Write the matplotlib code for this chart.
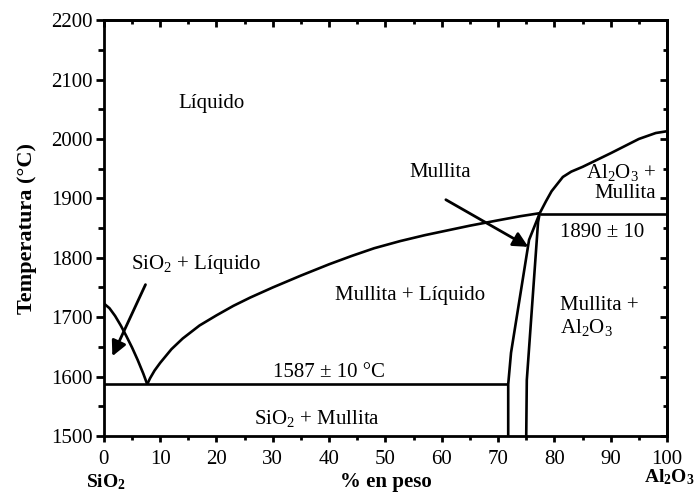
import matplotlib
matplotlib.use("Agg")
import matplotlib.pyplot as plt
from matplotlib.ticker import MultipleLocator, NullFormatter

plt.rcParams['font.family'] = ['Liberation Serif', 'DejaVu Serif']
plt.rcParams['mathtext.fontset'] = 'custom'
plt.rcParams['mathtext.rm'] = 'Liberation Serif'
plt.rcParams['mathtext.bf'] = 'Liberation Serif:bold'
plt.rcParams['mathtext.default'] = 'rm'

# Liquidus, SiO2 side
liq_sio2_x = [0, 1, 2, 3, 4, 5, 6, 7, 7.7]
liq_sio2_t = [1723, 1715, 1702, 1686, 1668, 1649, 1628, 1605, 1587]
# Liquidus, mullite side (eutectic to peritectic)
liq_mul_x = [7.7, 8.2, 9, 10, 12, 14, 17, 20, 23, 26, 30, 35, 40, 44, 48,
             52.6, 57, 61.5, 65, 70, 74, 77.4]
liq_mul_t = [1587, 1597, 1610, 1623, 1646, 1664, 1686, 1703, 1719, 1733, 1750,
             1770, 1789, 1803, 1816, 1828, 1838, 1847, 1854, 1863, 1870, 1875]
# Liquidus, Al2O3 side
liq_al_x = [77.4, 78.5, 79.5, 81.5, 83, 85, 90, 95, 98, 100]
liq_al_t = [1875, 1895, 1912, 1936, 1945, 1953, 1976, 2000, 2010, 2013]
# Peritectic line
perit_x = [77.4, 100]
perit_t = [1874, 1874]
# Eutectic line
eut_x = [0, 71.8]
eut_t = [1587, 1587]
# Mullite region boundaries
mul_left_x = [71.8, 71.8, 72.3, 75.5, 77.4]
mul_left_t = [1500, 1587, 1640, 1830, 1875]
mul_right_x = [75.0, 75.1, 77.1, 77.4]
mul_right_t = [1500, 1594, 1860, 1875]

fig = plt.figure(figsize=(6.97, 4.92), dpi=100)
ax = fig.add_axes([0.149, 0.114, 0.808, 0.845])

lw = 1.9
for xs, ts in [(liq_sio2_x, liq_sio2_t), (liq_mul_x, liq_mul_t), (liq_al_x, liq_al_t),
               (perit_x, perit_t), (eut_x, eut_t), (mul_left_x, mul_left_t),
               (mul_right_x, mul_right_t)]:
    ax.plot(xs, ts, color='black', lw=lw, solid_capstyle='butt', solid_joinstyle='round')

ax.set_xlim(0, 100)
ax.set_ylim(1500, 2200)

# Arrows
ax.annotate('', xy=(1.3, 1630), xytext=(7.6, 1759),
            arrowprops=dict(arrowstyle='-|>,head_length=0.9,head_width=0.45', color='black', lw=2))
ax.annotate('', xy=(75.8, 1816), xytext=(60.3, 1900),
            arrowprops=dict(arrowstyle='-|>,head_length=0.9,head_width=0.45', color='black', lw=2))

fs = 15
ax.text(19.2, 2060, 'Líquido', fontsize=fs, ha='center', va='center')
ax.text(16.3, 1788, r'SiO$_2$ + Líquido', fontsize=fs, ha='center', va='center')
ax.text(54.4, 1737, 'Mullita + Líquido', fontsize=fs, ha='center', va='center')
ax.text(59.7, 1943, 'Mullita', fontsize=fs, ha='center', va='center')
ax.text(98.0, 1927, 'Al$_2$O$_3$ +\nMullita', fontsize=fs, ha='right', va='center',
        linespacing=1.1)
ax.text(81.0, 1843, '1890 ± 10', fontsize=fs, ha='left', va='center')
ax.text(81.0, 1700, 'Mullita +\nAl$_2$O$_3$', fontsize=fs, ha='left', va='center',
        linespacing=1.1)
ax.text(40.0, 1606, '1587 ± 10 °C', fontsize=fs, ha='center', va='center')
ax.text(37.8, 1530, r'SiO$_2$ + Mullita', fontsize=fs, ha='center', va='center')

ax.set_ylabel('Temperatura (°C)', fontsize=16, fontweight='bold', labelpad=10)
ax.set_xlabel('% en peso', fontsize=15, fontweight='bold', labelpad=2)
fig.text(0.152, 0.020, r'SiO$_\mathbf{2}$', fontsize=14, fontweight='bold', ha='center', va='center')
fig.text(0.960, 0.030, r'Al$_\mathbf{2}$O$_\mathbf{3}$', fontsize=14, fontweight='bold', ha='center', va='center')

ax.xaxis.set_major_locator(MultipleLocator(10))
ax.xaxis.set_minor_locator(MultipleLocator(5))
ax.yaxis.set_major_locator(MultipleLocator(100))
ax.yaxis.set_minor_locator(MultipleLocator(50))
ax.tick_params(axis='both', which='major', labelsize=15, width=2, direction='out')
ax.tick_params(axis='both', which='minor', width=2, direction='out')
ax.tick_params(axis='x', which='major', length=4, pad=6)
ax.tick_params(axis='x', which='minor', length=3)
ax.tick_params(axis='y', which='major', length=6, pad=2)
ax.tick_params(axis='y', which='minor', length=4)
for s in ax.spines.values():
    s.set_linewidth(2)

# Top ticks (inward) and right ticks (inward)
top = ax.secondary_xaxis('top')
top.xaxis.set_major_locator(MultipleLocator(10))
top.xaxis.set_minor_locator(MultipleLocator(5))
top.xaxis.set_major_formatter(NullFormatter())
top.tick_params(which='major', direction='in', length=5, width=2)
top.tick_params(which='minor', direction='in', length=3, width=2)
top.spines['top'].set_linewidth(2)

right = ax.secondary_yaxis('right')
right.yaxis.set_major_locator(MultipleLocator(100))
right.yaxis.set_minor_locator(MultipleLocator(50))
right.yaxis.set_major_formatter(NullFormatter())
right.tick_params(which='major', direction='in', length=5, width=2)
right.tick_params(which='minor', direction='in', length=3, width=2)
right.spines['right'].set_linewidth(2)

fig.savefig('out.png', dpi=100)
